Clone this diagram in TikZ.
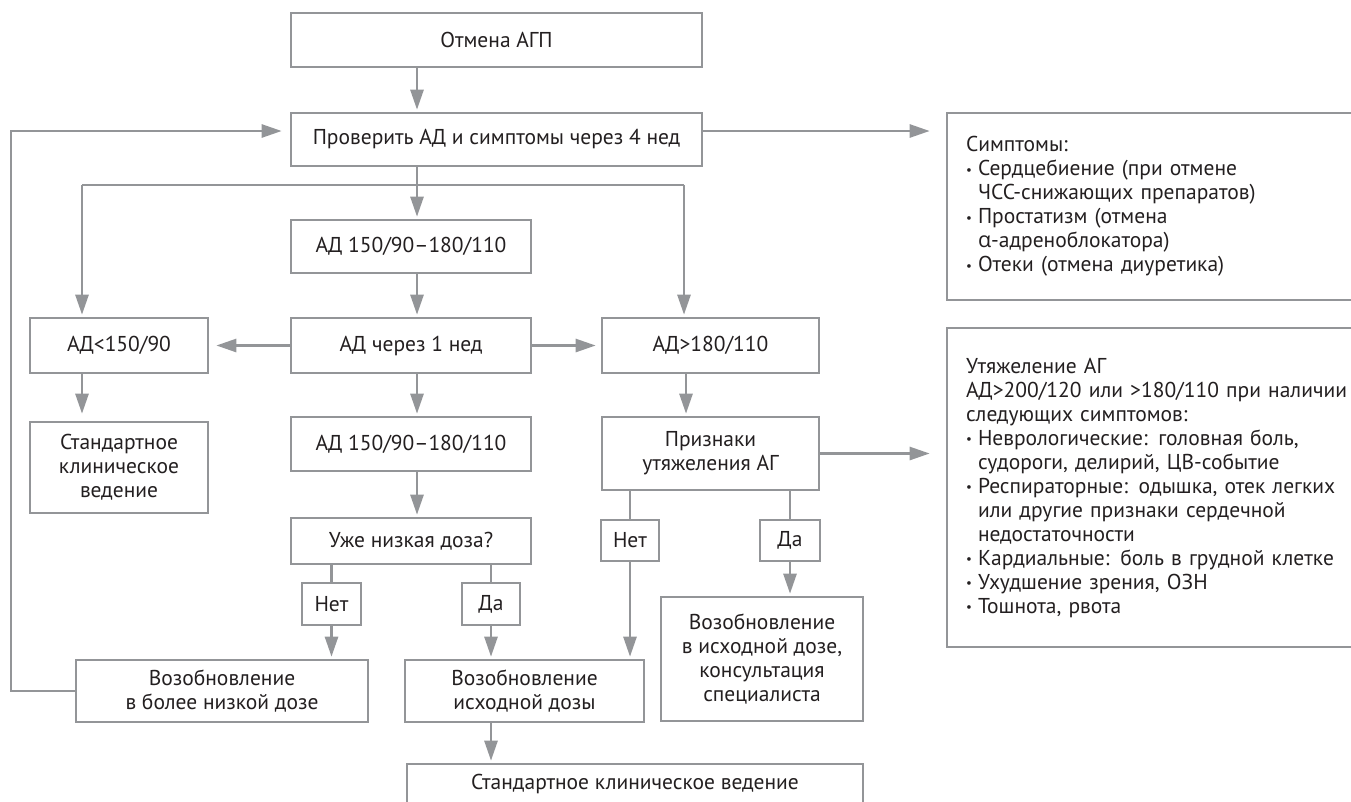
\documentclass[tikz,border=0pt]{standalone}
\usepackage{fontspec}
\setmainfont{PT Sans}
\newfontfamily\grk{Open Sans}
\usetikzlibrary{arrows.meta}
\definecolor{ln}{HTML}{939598}
\definecolor{tx}{HTML}{231F20}
\newcommand{\bul}{\makebox[12pt][l]{\raisebox{0.12ex}{\fontsize{13}{13}\selectfont •}}}
\newcommand{\bitem}{\par\hangindent=12pt\hangafter=1\noindent\bul}
\begin{document}
\begin{tikzpicture}[x=1pt,y=-1pt,
  font=\fontsize{21.5}{24}\selectfont,
  box/.style={draw=ln,line width=2.6pt,text=tx,inner sep=0pt,align=center},
  sidebox/.style={draw=ln,line width=2.6pt,text=tx,inner ysep=0pt,inner xsep=19pt,text width=400pt,align=left},
  conn/.style={draw=ln,line width=2.6pt},
  arr/.style={conn,-{Triangle[length=20pt,width=13pt]},shorten >=2pt}]
\useasboundingbox (0,0) rectangle (1351,801);
\clip (0,0) rectangle (1351,801);
% boxes
\node[box,minimum width=411pt,minimum height=54pt] (otmena) at (496.5,40) {Отмена АГП};
\node[box,minimum width=411pt,minimum height=53pt] (prov) at (496.5,139.5) {Проверить АД и симптомы через 4 нед};
\node[box,minimum width=240pt,minimum height=53pt] (ad1) at (411,246.5) {АД 150/90–180/110};
\node[box,minimum width=240pt,minimum height=55pt] (ad1ned) at (411,345.5) {АД через 1 нед};
\node[box,minimum width=178pt,minimum height=55pt] (adlow) at (119,345.5) {АД<150/90};
\node[box,minimum width=217pt,minimum height=55pt] (adhigh) at (710.5,345.5) {АД>180/110};
\node[box,minimum width=178pt,minimum height=91pt] (std1) at (119,467.5) {Стандартное\\клиническое\\ведение};
\node[box,minimum width=240pt,minimum height=54pt] (ad2) at (411,444) {АД 150/90–180/110};
\node[box,minimum width=217pt,minimum height=73pt] (priz) at (710.5,453.5) {Признаки\\утяжеления АГ};
\node[box,minimum width=240pt,minimum height=46pt] (low) at (411,541) {Уже низкая доза?};
\node[box,minimum width=59pt,minimum height=42pt] (net1) at (331.5,604) {Нет};
\node[box,minimum width=58pt,minimum height=42pt] (da1) at (491,604) {Да};
\node[box,minimum width=58pt,minimum height=41pt] (net2) at (630,540.5) {Нет};
\node[box,minimum width=60pt,minimum height=41pt] (da2) at (790,540.5) {Да};
\node[box,minimum width=292pt,minimum height=62pt] (resLow) at (222,691) {Возобновление\\в более низкой дозе};
\node[box,minimum width=239pt,minimum height=62pt] (resOrig) at (524.5,691) {Возобновление\\исходной дозы};
\node[box,minimum width=202pt,minimum height=124pt] (resCons) at (762,659) {Возобновление\\в исходной дозе,\\консультация\\специалиста};
\node[box,minimum width=456pt,minimum height=40pt] (std2) at (635,784) {Стандартное клиническое ведение};
\node[sidebox,minimum height=187pt] (symp) at (1166,206.5) {Симптомы:
\bitem Сердцебиение (при отмене\newline ЧСС-снижающих препаратов)
\bitem Простатизм (отмена\newline {\grk α}-адреноблокатора)
\bitem Отеки (отмена диуретика)};
\node[sidebox,minimum height=319pt] (big) at (1166,487.5) {Утяжеление АГ\\АД>200/120 или >180/110 при наличии\\следующих симптомов:
\bitem Неврологические: головная боль,\newline судороги, делирий, ЦВ-событие
\bitem Респираторные: одышка, отек легких\newline или другие признаки сердечной\newline недостаточности
\bitem Кардиальные: боль в грудной клетке
\bitem Ухудшение зрения, ОЗН
\bitem Тошнота, рвота};
% helper coordinates
\coordinate (cx) at (417,0);
\coordinate (rc) at (686,0);
\coordinate (bl) at (82,185);
\coordinate (br) at (684,185);
\coordinate (lp) at (11,131);
% connectors
\draw[arr] (otmena.south -| cx) -- (prov.north -| cx);
\draw[arr] (prov.south -| cx) -- (ad1.north -| cx);
\draw[conn] (bl) -- (br);
\draw[arr] (bl) -- (adlow.north -| bl);
\draw[arr] (br) -- (adhigh.north -| br);
\draw[arr] (ad1.south -| cx) -- (ad1ned.north -| cx);
\draw[arr,shorten >=7pt] (ad1ned.west) -- (adlow.east);
\draw[arr,shorten >=5pt] (ad1ned.east) -- (adhigh.west);
\draw[arr,shorten >=7pt] (adlow.south -| bl) -- (std1.north -| bl);
\draw[arr] (ad1ned.south -| cx) -- (ad2.north -| cx);
\draw[arr] (ad2.south -| cx) -- (low.north -| cx);
\draw[arr] (adhigh.south -| rc) -- (priz.north -| rc);
\draw[arr,shorten >=16pt] (prov.east |- lp) -- (symp.west |- lp);
\draw[arr,shorten >=16pt] (priz.east) -- (big.west |- priz.east);
\draw[conn] (low.south -| net1) -- (net1.north);
\draw[arr] (net1.south) -- (resLow.north -| net1);
\draw[conn] (low.south -| da1) -- (da1.north);
\draw[arr] (da1.south) -- (resOrig.north -| da1);
\draw[conn] (priz.south -| net2) -- (net2.north);
\draw[arr] (net2.south) -- (resOrig.north -| net2);
\draw[conn] (priz.south -| da2) -- (da2.north);
\draw[arr] (da2.south) -- (resCons.north -| da2);
\draw[arr] (resOrig.south -| da1) -- (std2.north -| da1);
\draw[arr,shorten >=8pt] (resLow.west) -| (lp) -- (prov.west |- lp);
\end{tikzpicture}
\end{document}
